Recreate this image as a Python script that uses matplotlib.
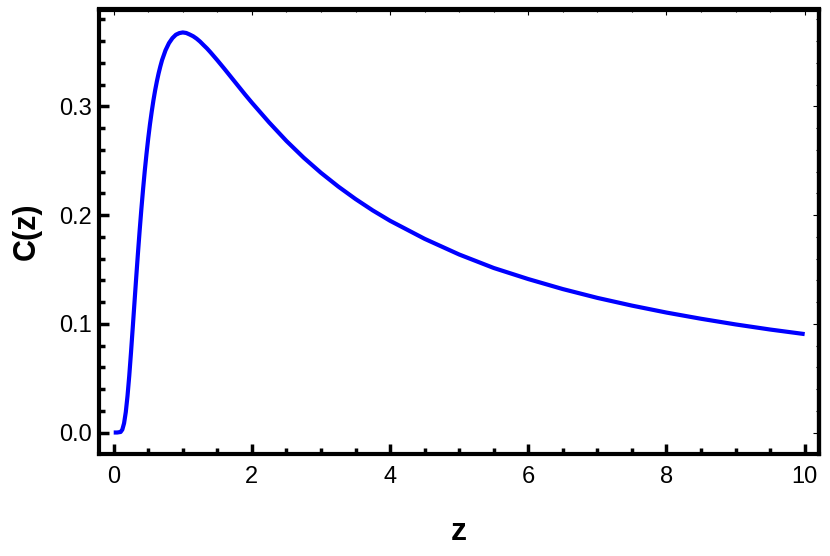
import matplotlib.pyplot as plt
from matplotlib.ticker import MultipleLocator

# values
z = [0.0, 0.05, 0.1, 0.125, 0.15, 0.175, 0.2, 0.225, 0.25, 0.275, 0.3, 0.325,
     0.35, 0.375, 0.4, 0.425, 0.45, 0.475, 0.5, 0.525, 0.55, 0.575, 0.6, 0.625,
     0.65, 0.675, 0.7, 0.75, 0.8, 0.85, 0.9, 0.95, 1.0, 1.05, 1.1, 1.15, 1.2,
     1.25, 1.3, 1.35, 1.4, 1.5, 1.6, 1.7, 1.8, 1.9, 2.0, 2.25, 2.5, 2.75, 3.0,
     3.25, 3.5, 3.75, 4.0, 4.5, 5.0, 5.5, 6.0, 6.5, 7.0, 7.5, 8.0, 8.5, 9.0,
     9.5, 10.0]
c = [0.0, 0.0, 0.0005, 0.0027, 0.0085, 0.0188, 0.0337, 0.0521, 0.0733, 0.0959,
     0.1189, 0.1419, 0.1641, 0.1853, 0.2052, 0.2237, 0.2409, 0.2564, 0.2707,
     0.2836, 0.2950, 0.3055, 0.3148, 0.3230, 0.3303, 0.3367, 0.3425, 0.3515,
     0.3581, 0.3627, 0.3658, 0.3673, 0.3679, 0.3674, 0.3660, 0.3644, 0.3622,
     0.3595, 0.3563, 0.3532, 0.3497, 0.3423, 0.3346, 0.3267, 0.3188, 0.3109,
     0.3033, 0.2851, 0.2681, 0.2527, 0.2388, 0.2262, 0.2147, 0.2042, 0.1947,
     0.1781, 0.1637, 0.1513, 0.1411, 0.1319, 0.1238, 0.1167, 0.1103, 0.1046,
     0.0994, 0.0947, 0.0905]

x_ticks = [0, 2, 4, 6, 8, 10]
y_ticks = [0.0, 0.1, 0.2, 0.3]
y_tick_labels = ['0.0', '0.1', '0.2', '0.3']


def main():
    plt.rcParams['font.family'] = ['Liberation Sans', 'DejaVu Sans']
    fig = plt.figure(figsize=(8.3, 5.56), dpi=100)
    ax = fig.add_axes([98.5 / 830, 1 - 453.5 / 556, 720 / 830, 444 / 556])

    ax.plot(z, c, color='#0000ff', linewidth=3, solid_capstyle='butt',
            solid_joinstyle='round')

    ax.set_xlim(-0.22, 10.2)
    ax.set_ylim(-0.0193, 0.389)

    ax.set_xticks(x_ticks)
    ax.set_yticks(y_ticks)
    ax.set_yticklabels(y_tick_labels)
    ax.xaxis.set_minor_locator(MultipleLocator(0.5))
    ax.yaxis.set_minor_locator(MultipleLocator(0.02))

    for s in ax.spines.values():
        s.set_linewidth(3)

    ax.tick_params(which='major', direction='in', length=7, width=2.5,
                   labelsize=17, pad=5, top=False, right=False)
    ax.tick_params(axis='x', which='major', pad=9)
    ax.tick_params(which='minor', direction='in', length=4, width=2.5,
                   top=False, right=False)

    # thin mirrored ticks on top and right
    top = ax.secondary_xaxis('top')
    top.set_xticks(x_ticks)
    top.xaxis.set_minor_locator(MultipleLocator(0.5))
    top.tick_params(which='major', direction='in', length=4, width=0.8, labeltop=False)
    top.tick_params(which='minor', direction='in', length=2.5, width=0.8)
    top.spines['top'].set_linewidth(3)

    right = ax.secondary_yaxis('right')
    right.set_yticks(y_ticks)
    right.yaxis.set_minor_locator(MultipleLocator(0.02))
    right.tick_params(which='major', direction='in', length=4, width=0.8, labelright=False)
    right.tick_params(which='minor', direction='in', length=2.5, width=0.8)
    right.spines['right'].set_linewidth(3)

    ax.set_xlabel('z', fontsize=23, fontweight='bold', labelpad=21)
    ax.set_ylabel('C(z)', fontsize=22, fontweight='bold', labelpad=12)

    fig.savefig('out.png', dpi=100)


if __name__ == "__main__":
    main()
